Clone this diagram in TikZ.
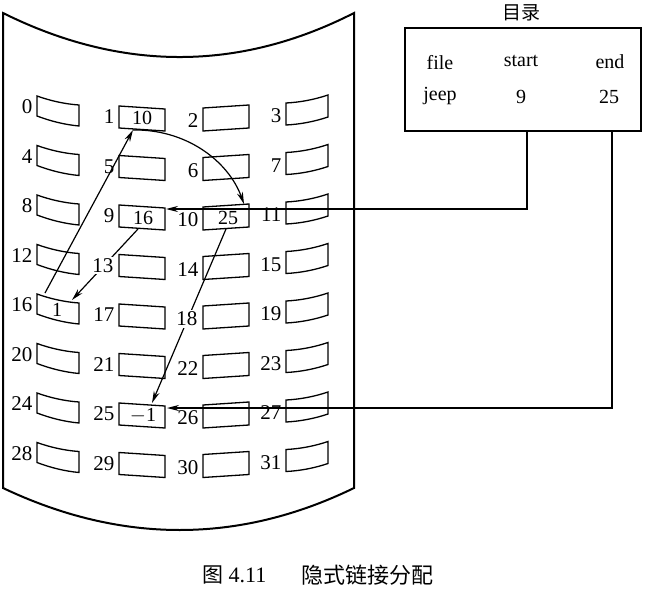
\documentclass[tikz,border=0pt]{standalone}
\usepackage{fontspec}
\setmainfont{Liberation Serif}
\newfontfamily\cjk{Noto Sans CJK SC}
\usetikzlibrary{arrows.meta}
\begin{document}
\begin{tikzpicture}[x=1pt,y=-1pt,
  disk/.style={line width=2pt},
  blk/.style={line width=1.3pt},
  conn/.style={line width=1.2pt,-{Stealth[length=12pt,width=6pt]}},
  num/.style={font=\fontsize{21}{21}\selectfont,inner sep=0.5pt,anchor=east},
  inb/.style={font=\fontsize{20}{20}\selectfont,inner sep=0pt},
  dir/.style={font=\fontsize{20}{20}\selectfont,inner sep=0pt},
  cut/.style={fill=white,inner sep=1.5pt}]
\useasboundingbox (0,0) rectangle (645,591);
% disk outline
\draw[disk] (3,13) -- (3,488) .. controls (121,544) and (239,544) .. (354,488)
  -- (354,13) .. controls (239,71.7) and (121,71.7) .. (3,13) -- cycle;
% blocks
\foreach \r in {0,...,7}{
  \pgfmathsetmacro{\d}{\r*49.5}
  \draw[blk] (37,96+\d) .. controls (51,101+\d) and (65,104+\d) .. (79,105+\d)
    -- (79,126+\d) .. controls (65,124.7+\d) and (51,121.3+\d) .. (37,116+\d) -- cycle;
  \draw[blk] (119,106+\d) -- (165,109+\d) -- (165,131+\d) -- (119,128+\d) -- cycle;
  \draw[blk] (203,108+\d) -- (249,105+\d) -- (249,128+\d) -- (203,131+\d) -- cycle;
  \draw[blk] (286,103+\d) .. controls (300,102.3+\d) and (314,99.7+\d) .. (328,95+\d)
    -- (328,117+\d) .. controls (314,121.7+\d) and (300,124.3+\d) .. (286,125+\d) -- cycle;
}
% block contents
\node[inb] (t1) at (142,118) {10};
\node[inb] (t9) at (143,218) {16};
\node[inb] (t10) at (228,218) {25};
\node[inb] (t16) at (57,310) {1};
\node[inb] (t25) at (143,416) {$-$1};
% directory
\node[font=\cjk\fontsize{19}{19}\selectfont,inner sep=0pt] (dtitle) at (521,13) {目录};
\draw[line width=1.7pt] (405,28) rectangle (641,131);
\node[dir] (dfile) at (440,63) {file};
\node[dir] (dstart) at (521,61) {start};
\node[dir] (dend) at (610,62) {end};
\node[dir] (djeep) at (440,96) {jeep};
\node[dir] (d9) at (521,97) {9};
\node[dir] (d25) at (609,97) {25};
% connection points
\coordinate (s16) at (45,293);
\coordinate (b1) at (133,130);
\coordinate (b10) at (244,204);
\coordinate (r9) at (166,209);
\coordinate (b9) at (138,229);
\coordinate (tr16) at (72,300);
\coordinate (b10s) at (226,229);
\coordinate (t25top) at (152,403);
\coordinate (r25) at (167,408);
\coordinate (ds) at (527,131);
\coordinate (de) at (612,131);
% connectors
\draw[conn] (s16) -- (b1);
\draw[conn] (b1) .. controls (185,129) and (228,160) .. (b10);
\draw[conn] (ds) |- (r9);
\draw[conn] (b9) -- (tr16);
\draw[conn] (b10s) -- (t25top);
\draw[conn] (de) |- (r25);
% labels
\foreach \r in {0,...,7}{
  \pgfmathsetmacro{\d}{\r*49.5}
  \pgfmathtruncatemacro{\a}{\r*4}
  \pgfmathtruncatemacro{\b}{\r*4+1}
  \pgfmathtruncatemacro{\c}{\r*4+2}
  \pgfmathtruncatemacro{\e}{\r*4+3}
  \node[num] (l\a) at (33,107+\d) {\a};
  \ifnum\b=13 \node[num,cut] (l\b) at (115,117+\d) {\b};
  \else \node[num] (l\b) at (115,117+\d) {\b}; \fi
  \ifnum\c=18 \node[num,cut] (l\c) at (199,121+\d) {\c};
  \else \node[num] (l\c) at (199,121+\d) {\c}; \fi
  \node[num] (l\e) at (282,116+\d) {\e};
}
% caption
\node[font=\cjk\fontsize{21}{21}\selectfont,inner sep=0pt] (cap1) at (213,575) {图};
\node[font=\fontsize{22}{22}\selectfont,inner sep=0pt] (cap2) at (247.5,575) {4.11};
\node[font=\cjk\fontsize{22}{22}\selectfont,inner sep=0pt] (cap3) at (367.5,575) {隐式链接分配};
\end{tikzpicture}
\end{document}
